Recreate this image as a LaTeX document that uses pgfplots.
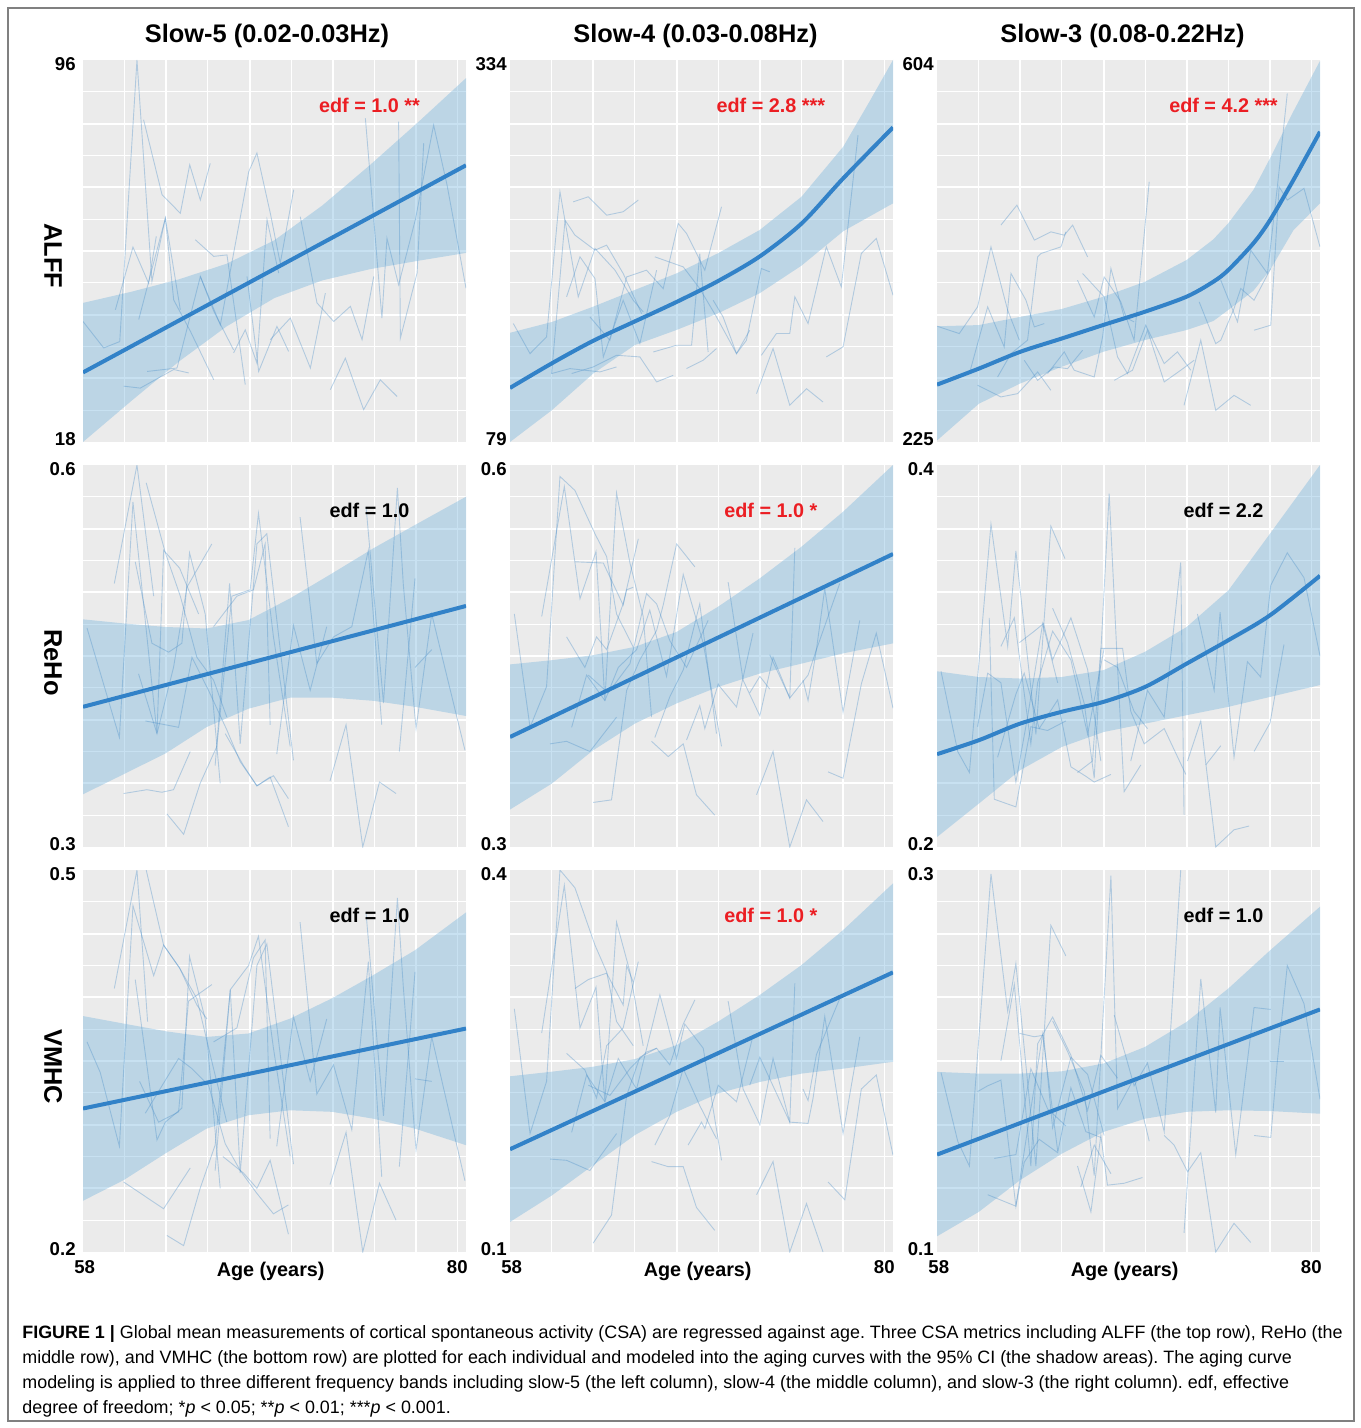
\documentclass[border=0pt]{standalone}
\usepackage{fontspec}
\setmainfont{Liberation Sans}
\usepackage{pgfplots}
\pgfplotsset{compat=1.18}

\definecolor{panelbg}{RGB}{235,235,235}
\definecolor{bandfill}{RGB}{118,180,222}
\definecolor{fitblue}{RGB}{50,130,200}
\definecolor{spagblue}{RGB}{70,140,200}
\definecolor{edfred}{RGB}{235,30,35}
\definecolor{framegray}{RGB}{128,128,128}

\newcommand{\titlefont}{\fontsize{12.7}{15}\selectfont\bfseries}
\newcommand{\tickfont}{\fontsize{9.3}{11}\selectfont\bfseries}
\newcommand{\edffont}{\fontsize{9.9}{12}\selectfont\bfseries}
\newcommand{\lblfont}{\fontsize{9.9}{12}\selectfont\bfseries}
\newcommand{\capfont}{\fontsize{8.95}{12.6}\selectfont}

\pgfplotsset{
  panel/.style={
    scale only axis, width=191.5pt, height=191pt,
    anchor=north west,
    xmin=58, xmax=80,
    axis background/.style={fill=panelbg},
    axis line style={draw=none},
    major tick length=0pt, minor tick length=0pt,
    grid=both,
    major grid style={draw=white, line width=1pt},
    minor grid style={draw=white, line width=0.5pt},
    xtick={62.78,67.57,72.35,77.13},
    minor xtick={60.39,65.17,69.96,74.74,79.52},
    xticklabels={}, yticklabels={},
    extra y tick style={grid=none},
    yticklabel style={font=\tickfont, inner sep=0pt, anchor=east},
  },
  firstcol/.style={yticklabel style={xshift=-3.5pt}},
  othercol/.style={yticklabel style={xshift=-1.5pt}},
  bottomrow/.style={
    extra x ticks={58.1,79.5},
    extra x tick labels={\textbf{58},\textbf{80}},
    extra x tick style={grid=none},
    xticklabel style={font=\tickfont, inner sep=0pt, anchor=north, yshift=-4pt},
    xlabel={Age (years)},
    xlabel style={font=\lblfont, at={(axis description cs:0.49,0)}, anchor=north, inner sep=0pt, yshift=-5pt},
  },
  band/.style={draw=none, fill=bandfill, fill opacity=0.4, forget plot},
  fit/.style={draw=fitblue, line width=2pt, mark=none, forget plot},
  spag/.style={draw=spagblue, draw opacity=0.35, line width=0.45pt, mark=none, forget plot},
}

\begin{document}
\frenchspacing
\begin{tikzpicture}
\useasboundingbox (0,0) rectangle (680pt,-714pt);
\fill[white] (0,0) rectangle (680pt,-714pt);
\draw[framegray, line width=0.8pt] (4pt,-4pt) rectangle (677pt,-710.5pt);

\node[font=\titlefont, anchor=base] at (133.5pt,-21.5pt) {Slow-5 (0.02-0.03Hz)};
\node[font=\titlefont, anchor=base] at (347.75pt,-21.5pt) {Slow-4 (0.03-0.08Hz)};
\node[font=\titlefont, anchor=base] at (561.25pt,-21.5pt) {Slow-3 (0.08-0.22Hz)};

\node[font=\titlefont, rotate=-90] at (26.5pt,-128pt) {ALFF};
\node[font=\titlefont, rotate=-90] at (26.5pt,-331.25pt) {ReHo};
\node[font=\titlefont, rotate=-90] at (26.5pt,-533.25pt) {VMHC};

% ---------------- Row 1, col 1 : ALFF slow-5
\begin{axis}[panel, firstcol, at={(41.5pt,-30pt)}, ymin=18, ymax=96,
  ytick={31,44,57,70,83}, minor ytick={24.5,37.5,50.5,63.5,76.5,89.5},
  extra y ticks={18.5,95.2}, extra y tick labels={\textbf{18},\textbf{96}}]
\addplot[band] coordinates {(58,46.4) (60.75,48.65) (63.5,51.2) (66.25,54.4) (69,59.2) (71.75,66.3) (74.5,74.6) (77.25,83.3) (80,92.3) (80,56.6) (77.25,55.0) (74.5,53.3) (71.75,51.0) (69,47.4) (66.25,41.6) (63.5,34.4) (60.75,26.3) (58,18.0)};
\addplot[spag] coordinates {(58.0,42.6) (59.19,37.2) (60.11,38.5) (61.10,96.0) (61.96,50.8) (62.73,63.7) (63.59,45.0)};
\addplot[spag] coordinates {(59.86,45.0) (60.87,57.8) (61.77,50.4) (62.21,60.0)};
\addplot[spag] coordinates {(61.48,83.8) (62.54,68.5) (63.59,64.7) (64.13,74.6) (64.74,67.4) (65.31,74.9)};
\addplot[spag] coordinates {(61.20,43.0) (62.73,63.7) (63.21,47.0) (64.17,40.6) (65.51,30.7)};
\addplot[spag] coordinates {(60.34,29.4) (61.29,29.0) (63.21,32.8) (64.07,32.1)};
\addplot[spag] coordinates {(61.68,32.4) (63.40,33.1) (64.74,51.8) (65.51,44.7) (66.65,36.8)};
\addplot[spag] coordinates {(64.45,59.3) (65.51,55.9) (66.27,56.2) (67.32,29.7)};
\addplot[spag] coordinates {(64.74,51.8) (65.89,41.9) (67.52,73.2) (67.99,77.0) (68.76,64.7) (69.33,54.5) (70.10,69.5)};
\addplot[spag] coordinates {(66.65,36.2) (67.32,40.9) (67.99,34.1) (68.57,63.4) (69.24,52.5)};
\addplot[spag] coordinates {(67.42,51.8) (68.09,32.4) (69.14,41.6) (69.81,36.5)};
\addplot[spag] coordinates {(68.76,38.9) (69.91,43.3) (71.06,33.1) (71.92,48.4)};
\addplot[spag] coordinates {(70.48,64.0) (71.44,46.4) (72.40,42.6) (73.36,45.7) (74.03,38.9) (74.70,51.8)};
\addplot[spag] coordinates {(72.21,28.7) (73.07,35.1) (74.12,24.6) (75.08,30.7) (76.04,27.3)};
\addplot[spag] coordinates {(74.22,84.1) (75.17,43.3) (75.46,59.6) (76.13,50.1) (77.09,63.4) (78.14,82.7) (78.91,70.5) (80.0,49.4)};
\addplot[spag] coordinates {(76.13,83.4) (76.23,39.2) (77.19,52.5) (77.57,79.0)};
\addplot[fit] coordinates {(58,32.2) (80,74.5)};
\node[font=\edffont, text=edfred] at (rel axis cs:0.748,0.881) {edf = 1.0 **};
\end{axis}

% ---------------- Row 1, col 2 : ALFF slow-4
\begin{axis}[panel, othercol, at={(255pt,-30pt)}, ymin=79, ymax=334,
  ytick={121.5,164,206.5,249,291.5}, minor ytick={100.25,142.75,185.25,227.75,270.25,312.75},
  extra y ticks={80.8,331.2}, extra y tick labels={\textbf{79},\textbf{334}}]
\addplot[band] coordinates {(58,151.9) (60.4,159.1) (62.77,169.3) (65.17,180.5) (67.57,191.6) (69.95,205.0) (72.34,220.5) (74.74,242.7) (77.14,276.1) (78.7,307.3) (80,334) (80,238.3) (77.14,219.7) (74.74,196.7) (72.34,178.3) (69.95,164.9) (67.57,153.8) (65.17,143.7) (62.77,124.6) (60.4,100.2) (58,79.0)};
\addplot[spag] coordinates {(58.19,158.1) (59.15,138.0) (60.10,149.2) (60.87,246.0) (61.92,175.9) (62.88,208.2) (64.03,193.7) (65.08,173.6) (65.65,165.9)};
\addplot[spag] coordinates {(60.39,124.7) (61.16,227.1) (61.73,217.1) (62.88,207.1) (63.55,210.4) (64.50,191.5) (65.56,164.7)};
\addplot[spag] coordinates {(61.63,239.3) (62.50,242.7) (63.55,230.4) (64.50,232.7) (65.37,240.5)};
\addplot[spag] coordinates {(61.25,175.9) (62.02,202.6) (62.88,188.1) (63.36,135.8) (64.50,173.6) (65.46,144.7) (66.42,193.7)};
\addplot[spag] coordinates {(60.39,124.7) (61.44,128.0) (63.17,125.8) (64.12,129.1)};
\addplot[spag] coordinates {(61.54,124.7) (62.78,129.1) (64.12,136.9) (65.46,135.8) (66.42,119.1) (67.37,123.5)};
\addplot[spag] coordinates {(62.59,162.5) (63.74,146.9) (64.70,189.2) (65.84,193.7) (66.80,181.4) (67.66,224.9) (68.14,218.2) (69.19,193.7) (70.15,236.0)};
\addplot[spag] coordinates {(66.23,139.1) (67.57,143.6) (68.43,143.6) (68.90,204.8) (69.38,139.1)};
\addplot[spag] coordinates {(66.32,202.6) (67.95,195.9) (68.90,181.4) (69.86,162.5) (71.01,138.0) (71.58,146.9) (72.44,194.8) (72.92,192.6)};
\addplot[spag] coordinates {(68.14,128.0) (69.10,133.6) (69.86,141.4)};
\addplot[spag] coordinates {(72.16,111.3) (73.11,141.4) (74.07,103.5) (75.03,114.6) (75.98,105.7)};
\addplot[spag] coordinates {(72.44,136.9) (73.30,151.4) (74.07,151.4) (74.36,175.9) (75.12,158.1) (76.17,209.3) (77.03,182.6) (77.99,283.9)};
\addplot[spag] coordinates {(76.17,135.8) (77.13,142.5) (78.18,204.8) (79.04,214.9) (80.0,177.0)};
\addplot[spag] coordinates {(69.67,173.6) (70.24,162.5) (71.01,138.0) (71.77,153.6)};
\addplot[fit, smooth] coordinates {(58,115.1) (60.4,131.5) (62.77,146.5) (65.17,159.5) (67.57,172.5) (69.96,186.5) (72.36,203.0) (74.76,225.0) (77.14,255.0) (80,289.0)};
\node[font=\edffont, text=edfred] at (rel axis cs:0.681,0.881) {edf = 2.8 ***};
\end{axis}

% ---------------- Row 1, col 3 : ALFF slow-3
\begin{axis}[panel, othercol, at={(468.5pt,-30pt)}, ymin=225, ymax=604,
  ytick={288.17,351.33,414.5,477.67,540.83}, minor ytick={256.58,319.75,382.92,446.08,509.25,572.42},
  extra y ticks={227.7,599.8}, extra y tick labels={\textbf{225},\textbf{604}}]
\addplot[band] coordinates {(58,339.8) (60.4,341.0) (62.77,349.1) (65.17,357.0) (67.57,369.2) (69.95,384.0) (72.34,405.6) (73.87,426.0) (74.73,442.0) (76.17,475.0) (77.13,506.5) (78.47,553.0) (80,603.2) (80,461.8) (78.47,435.0) (77.13,395.6) (76.17,375.0) (74.73,356.0) (73.87,345.0) (72.34,336.1) (69.95,326.2) (67.57,314.6) (65.17,299.7) (62.77,283.0) (60.4,262.9) (58,226.5)};
\addplot[spag] coordinates {(58.0,339.9) (59.28,332.6) (60.33,359.1) (61.10,418.6) (62.06,355.7) (62.73,326.0)};
\addplot[spag] coordinates {(59.86,292.9) (60.91,359.1) (61.86,319.3) (62.25,392.2) (63.11,365.7) (63.59,339.2) (64.16,342.5)};
\addplot[spag] coordinates {(61.67,440.2) (62.59,460.0) (63.59,425.3) (64.54,433.5) (65.31,430.2) (65.79,440.2) (66.65,408.7)};
\addplot[spag] coordinates {(60.33,281.3) (61.67,269.7) (62.63,273.0) (63.78,294.5) (64.54,276.3)};
\addplot[spag] coordinates {(61.48,289.5) (62.25,312.7) (63.20,326.0) (63.78,408.7) (63.97,412.0) (65.12,418.6) (65.40,433.5)};
\addplot[spag] coordinates {(63.01,306.1) (63.78,286.2) (64.73,299.5) (65.50,297.8) (66.36,316.0)};
\addplot[spag] coordinates {(64.35,292.9) (65.31,314.4) (65.88,296.2) (67.03,289.5) (67.51,329.3) (67.99,397.1) (68.75,349.1) (69.32,344.2)};
\addplot[spag] coordinates {(66.07,385.5) (67.03,349.1) (67.60,388.8) (68.56,364.0) (69.32,326.0) (70.19,483.2)};
\addplot[spag] coordinates {(66.36,392.2) (67.60,369.0) (68.37,309.4) (68.94,292.9) (69.99,340.9) (71.05,302.8) (71.81,314.4) (72.58,296.2)};
\addplot[spag] coordinates {(68.18,286.2) (69.23,296.2) (70.09,335.9) (71.05,284.6) (72.00,296.2) (72.77,306.1)};
\addplot[spag] coordinates {(72.19,261.4) (73.15,326.0) (74.01,256.4) (75.06,271.3) (76.02,261.4)};
\addplot[spag] coordinates {(73.06,364.0) (74.01,322.6) (74.30,326.0) (75.06,357.4) (75.45,377.3) (76.21,365.7) (77.17,397.1)};
\addplot[spag] coordinates {(74.30,385.5) (75.26,344.2) (76.02,415.3) (76.98,392.2) (77.55,478.2) (78.12,570.9)};
\addplot[spag] coordinates {(76.21,335.9) (77.17,340.9) (77.65,478.2) (78.12,465.0) (79.08,476.6) (80.0,418.6)};
\addplot[fit, smooth] coordinates {(58,281.9) (60.4,297.8) (62.77,314.4) (65.17,327.7) (67.55,341.1) (69.95,354.3) (72.34,369.2) (73.87,384.0) (74.73,395.6) (76.17,422.1) (77.13,445.2) (78.47,484.9) (80,532.8)};
\node[font=\edffont, text=edfred] at (rel axis cs:0.748,0.881) {edf = 4.2 ***};
\end{axis}

% ---------------- Row 2, col 1 : ReHo slow-5
\begin{axis}[panel, firstcol, at={(41.5pt,-232.5pt)}, ymin=0.3, ymax=0.6,
  ytick={0.35,0.4,0.45,0.5,0.55}, minor ytick={0.325,0.375,0.425,0.475,0.525,0.575},
  extra y ticks={0.302,0.5967}, extra y tick labels={\textbf{0.3},\textbf{0.6}}]
\addplot[band] coordinates {(58,0.4788) (60.4,0.4755) (62.73,0.4728) (65.1,0.4716) (67.5,0.4782) (69.9,0.4953) (72.3,0.5148) (74.68,0.5346) (77.07,0.5529) (80,0.5751) (80,0.4029) (77.07,0.4101) (74.68,0.4148) (72.3,0.4173) (69.9,0.4173) (67.5,0.4086) (65.1,0.3942) (62.73,0.3734) (60.4,0.3576) (58,0.3414)};
\addplot[spag] coordinates {(58.23,0.472) (60.09,0.386) (60.87,0.571) (62.25,0.389) (62.63,0.533) (63.55,0.519) (64.64,0.483)};
\addplot[spag] coordinates {(59.80,0.507) (61.10,0.600) (62.06,0.497)};
\addplot[spag] coordinates {(61.00,0.524) (61.96,0.460) (62.92,0.453) (63.68,0.460) (64.12,0.531) (65.02,0.483) (65.88,0.350)};
\addplot[spag] coordinates {(61.63,0.586) (62.73,0.531) (63.59,0.497) (64.54,0.449) (65.50,0.431) (66.26,0.402)};
\addplot[spag] coordinates {(60.33,0.342) (61.67,0.345) (62.53,0.343) (63.20,0.345) (64.16,0.375)};
\addplot[spag] coordinates {(61.19,0.436) (62.25,0.389) (63.20,0.441) (63.97,0.504) (65.40,0.538)};
\addplot[spag] coordinates {(61.58,0.399) (63.49,0.394) (64.26,0.449) (65.21,0.423) (66.26,0.392) (67.03,0.367) (67.99,0.348) (68.94,0.356) (69.80,0.338)};
\addplot[spag] coordinates {(62.82,0.326) (63.78,0.310) (64.73,0.350) (65.69,0.379) (66.55,0.497) (67.60,0.502) (68.08,0.562) (68.94,0.465) (69.90,0.379)};
\addplot[spag] coordinates {(65.59,0.364) (66.42,0.507) (67.03,0.381) (67.99,0.538) (68.56,0.546) (69.33,0.455) (70.09,0.368)};
\addplot[spag] coordinates {(65.50,0.473) (66.84,0.497) (67.79,0.502) (68.46,0.538) (68.75,0.396)};
\addplot[spag] coordinates {(66.17,0.389) (67.22,0.364) (67.99,0.348) (68.75,0.355) (69.80,0.316)};
\addplot[spag] coordinates {(69.13,0.373) (70.09,0.474) (71.05,0.423) (72.00,0.473)};
\addplot[spag] coordinates {(70.47,0.559) (71.43,0.444) (72.39,0.465) (73.44,0.473) (74.39,0.533) (75.16,0.396)};
\addplot[spag] coordinates {(72.19,0.352) (73.11,0.396) (74.07,0.300) (75.03,0.351) (75.98,0.342)};
\addplot[spag] coordinates {(74.26,0.567) (75.26,0.413) (76.06,0.582) (76.40,0.506) (77.13,0.393) (78.03,0.483) (79.94,0.376)};
\addplot[spag] coordinates {(76.17,0.375) (77.07,0.511)};
\addplot[spag] coordinates {(77.07,0.441) (78.03,0.455)};
\addplot[fit] coordinates {(58,0.4101) (80,0.4893)};
\node[font=\edffont, text=black] at (rel axis cs:0.748,0.881) {edf = 1.0};
\end{axis}

% ---------------- Row 2, col 2 : ReHo slow-4
\begin{axis}[panel, othercol, at={(255pt,-232.5pt)}, ymin=0.3, ymax=0.6,
  ytick={0.35,0.4,0.45,0.5,0.55}, minor ytick={0.325,0.375,0.425,0.475,0.525,0.575},
  extra y ticks={0.302,0.5967}, extra y tick labels={\textbf{0.3},\textbf{0.6}}]
\addplot[band] coordinates {(58,0.4434) (60.4,0.4467) (62.77,0.4506) (65.17,0.4572) (67.57,0.4689) (69.95,0.4887) (72.34,0.5109) (74.74,0.5358) (77.14,0.5634) (80,0.6000) (80,0.4599) (77.14,0.4521) (74.74,0.4440) (72.34,0.4362) (69.95,0.4257) (67.57,0.4128) (65.17,0.3969) (62.77,0.3759) (60.4,0.3498) (58,0.3294)};
\addplot[spag] coordinates {(58.25,0.483) (59.15,0.394) (60.10,0.426) (60.87,0.591) (61.73,0.580) (62.88,0.546) (63.55,0.528) (64.12,0.483) (65.08,0.457)};
\addplot[spag] coordinates {(59.82,0.481) (61.12,0.583) (62.02,0.495) (62.94,0.532) (63.45,0.415) (64.12,0.578) (64.89,0.523) (65.65,0.481) (66.13,0.402)};
\addplot[spag] coordinates {(61.25,0.465) (62.30,0.441) (62.97,0.465) (63.55,0.455) (64.50,0.491) (65.37,0.542)};
\addplot[spag] coordinates {(61.73,0.524) (63.36,0.523) (64.50,0.490) (64.70,0.502) (65.08,0.504)};
\addplot[spag] coordinates {(60.30,0.381) (61.25,0.383) (62.59,0.375) (64.12,0.402)};
\addplot[spag] coordinates {(62.78,0.335) (63.83,0.337) (64.70,0.423) (65.46,0.447) (66.42,0.470) (66.80,0.490) (67.57,0.538) (68.62,0.520)};
\addplot[spag] coordinates {(62.50,0.435) (63.64,0.421) (64.89,0.444) (65.84,0.499) (66.42,0.491) (67.18,0.462) (68.14,0.441) (69.38,0.478)};
\addplot[spag] coordinates {(61.54,0.394) (62.40,0.435) (63.45,0.415) (64.22,0.441) (65.27,0.455) (66.03,0.486) (66.99,0.434) (67.95,0.514) (69.10,0.460) (70.15,0.379)};
\addplot[spag] coordinates {(66.13,0.383) (67.09,0.371) (67.95,0.381) (68.71,0.341) (69.76,0.325)};
\addplot[spag] coordinates {(66.32,0.386) (67.18,0.418) (67.95,0.439) (68.90,0.491) (69.86,0.389)};
\addplot[spag] coordinates {(68.14,0.384) (68.90,0.411) (69.19,0.393) (69.96,0.428) (70.05,0.426) (71.01,0.410) (71.96,0.468)};
\addplot[spag] coordinates {(70.53,0.508) (71.39,0.431) (72.35,0.403) (73.11,0.449) (74.07,0.417) (74.36,0.535)};
\addplot[spag] coordinates {(72.16,0.341) (73.11,0.375) (74.07,0.300) (75.03,0.337) (75.98,0.320)};
\addplot[spag] coordinates {(71.77,0.421) (72.35,0.434) (72.92,0.424)};
\addplot[spag] coordinates {(72.92,0.451) (74.07,0.417) (75.12,0.435) (75.60,0.455) (76.08,0.503) (77.13,0.406) (78.09,0.478)};
\addplot[spag] coordinates {(76.27,0.359) (77.13,0.354) (78.18,0.428) (79.04,0.468) (80.0,0.409)};
\addplot[spag] coordinates {(74.83,0.431) (75.12,0.415) (75.60,0.455) (76.94,0.507)};
\addplot[fit] coordinates {(58,0.3864) (80,0.5301)};
\node[font=\edffont, text=edfred] at (rel axis cs:0.681,0.881) {edf = 1.0 *};
\end{axis}

% ---------------- Row 2, col 3 : ReHo slow-3
\begin{axis}[panel, othercol, at={(468.5pt,-232.5pt)}, ymin=0.2, ymax=0.4,
  ytick={0.23333,0.26667,0.3,0.33333,0.36667}, minor ytick={0.21667,0.25,0.28333,0.31667,0.35,0.38333},
  extra y ticks={0.2013,0.3978}, extra y tick labels={\textbf{0.2},\textbf{0.4}}]
\addplot[band] coordinates {(58,0.292) (60.4,0.289) (62.77,0.2882) (65.17,0.289) (67.57,0.2926) (69.95,0.3022) (72.34,0.3152) (74.74,0.3344) (77.14,0.3642) (80,0.4) (80,0.2848) (77.14,0.2786) (74.74,0.2734) (72.34,0.269) (69.95,0.2646) (67.57,0.2602) (65.17,0.2524) (62.77,0.2402) (60.4,0.2227) (58,0.2052)};
\addplot[spag] coordinates {(58.23,0.292) (59.19,0.250) (59.86,0.239) (61.10,0.369) (62.06,0.305) (62.53,0.355) (63.68,0.259) (64.54,0.368) (65.35,0.351)};
\addplot[spag] coordinates {(60.33,0.263) (60.91,0.291) (61.67,0.286) (62.53,0.234) (63.20,0.268) (64.07,0.317) (64.93,0.286)};
\addplot[spag] coordinates {(61.00,0.320) (61.29,0.225) (62.53,0.221) (63.39,0.263) (64.35,0.261) (65.40,0.266)};
\addplot[spag] coordinates {(61.67,0.305) (62.44,0.320) (63.39,0.254) (63.78,0.286) (64.64,0.313) (65.69,0.298) (66.65,0.259) (67.60,0.304)};
\addplot[spag] coordinates {(62.73,0.307) (63.59,0.313) (64.12,0.317) (64.64,0.298) (65.69,0.320) (66.65,0.293) (67.41,0.245)};
\addplot[spag] coordinates {(61.48,0.247) (62.53,0.280) (63.01,0.291) (63.87,0.262) (64.93,0.277) (65.69,0.242) (66.55,0.237) (67.03,0.234) (67.99,0.238)};
\addplot[spag] coordinates {(64.64,0.325) (65.50,0.307) (66.46,0.275) (67.03,0.236) (67.89,0.385) (68.37,0.294) (69.32,0.271) (70.09,0.262)};
\addplot[spag] coordinates {(66.07,0.239) (66.93,0.245) (67.41,0.304) (68.66,0.304) (69.13,0.271) (69.90,0.254) (71.05,0.262) (72.29,0.238)};
\addplot[spag] coordinates {(67.60,0.298) (68.37,0.294) (68.75,0.229) (69.71,0.243)};
\addplot[spag] coordinates {(69.13,0.245) (70.09,0.282) (71.05,0.268) (72.00,0.349) (72.19,0.217)};
\addplot[spag] coordinates {(72.39,0.245) (73.15,0.266) (74.01,0.200) (75.06,0.209) (75.93,0.211)};
\addplot[spag] coordinates {(72.96,0.322) (73.92,0.282) (74.26,0.323) (75.06,0.247) (75.83,0.297) (76.59,0.289) (77.17,0.337) (78.12,0.354) (79.08,0.341) (80.0,0.300)};
\addplot[spag] coordinates {(73.44,0.243) (74.30,0.253)};
\addplot[spag] coordinates {(76.21,0.250) (77.13,0.265) (77.93,0.306)};
\addplot[fit, smooth] coordinates {(58,0.2486) (60.4,0.2559) (62.77,0.2646) (65.17,0.2708) (67.57,0.276) (69.95,0.2838) (72.34,0.296) (74.74,0.3083) (77.14,0.3214) (80,0.342)};
\node[font=\edffont, text=black] at (rel axis cs:0.748,0.881) {edf = 2.2};
\end{axis}

% ---------------- Row 3, col 1 : VMHC slow-5
\begin{axis}[panel, firstcol, bottomrow, at={(41.5pt,-435pt)}, ymin=0.2, ymax=0.5,
  ytick={0.25,0.3,0.35,0.4,0.45}, minor ytick={0.225,0.275,0.325,0.375,0.425,0.475},
  extra y ticks={0.202,0.4967}, extra y tick labels={\textbf{0.2},\textbf{0.5}}]
\addplot[band] coordinates {(58,0.3853) (60.33,0.3794) (62.73,0.3734) (65.1,0.3689) (67.5,0.3716) (69.9,0.3833) (72.3,0.3992) (74.68,0.4175) (77.07,0.4370) (80,0.4667) (80,0.2839) (77.07,0.2969) (74.68,0.3047) (72.3,0.3101) (69.9,0.3113) (67.5,0.3074) (65.1,0.2969) (62.73,0.2774) (60.33,0.2564) (58,0.2402)};
\addplot[spag] coordinates {(58.23,0.365) (58.99,0.341) (60.09,0.283) (60.87,0.472) (62.06,0.417) (62.63,0.441) (63.55,0.423) (64.54,0.394) (65.12,0.383)};
\addplot[spag] coordinates {(59.80,0.407) (61.10,0.500) (61.71,0.381)};
\addplot[spag] coordinates {(61.00,0.414) (62.25,0.288) (62.73,0.302) (63.68,0.313) (64.12,0.432) (65.02,0.383) (65.88,0.250)};
\addplot[spag] coordinates {(61.63,0.500) (62.63,0.441) (63.55,0.423) (64.54,0.399) (65.50,0.344) (66.26,0.302)};
\addplot[spag] coordinates {(60.33,0.255) (62.63,0.234) (64.16,0.266)};
\addplot[spag] coordinates {(61.25,0.334) (62.34,0.302) (63.49,0.310) (64.06,0.397) (65.40,0.410)};
\addplot[spag] coordinates {(61.58,0.309) (63.49,0.352) (64.26,0.344) (65.21,0.331) (66.17,0.285) (67.03,0.264) (67.99,0.246) (68.94,0.230) (69.80,0.237)};
\addplot[spag] coordinates {(62.82,0.213) (63.78,0.205) (64.73,0.250) (65.59,0.284) (66.46,0.406) (67.51,0.425) (68.08,0.448) (68.94,0.360) (69.90,0.275)};
\addplot[spag] coordinates {(65.59,0.264) (66.46,0.406) (67.03,0.262) (67.99,0.425) (68.56,0.442) (69.33,0.355) (70.09,0.269)};
\addplot[spag] coordinates {(65.50,0.365) (66.84,0.376) (67.79,0.431) (68.46,0.445) (68.75,0.289)};
\addplot[spag] coordinates {(66.03,0.275) (67.22,0.262) (67.99,0.250) (68.75,0.272) (69.80,0.214)};
\addplot[spag] coordinates {(69.13,0.283) (70.09,0.385) (71.05,0.334) (72.00,0.383)};
\addplot[spag] coordinates {(70.47,0.459) (71.43,0.324) (72.39,0.347) (73.44,0.296) (74.39,0.428) (75.16,0.259)};
\addplot[spag] coordinates {(72.19,0.253) (73.11,0.294) (74.07,0.200) (75.03,0.254) (75.98,0.225)};
\addplot[spag] coordinates {(74.26,0.466) (75.26,0.307) (76.06,0.478) (76.40,0.408) (77.13,0.280) (78.03,0.369) (79.94,0.256)};
\addplot[spag] coordinates {(76.17,0.267) (77.07,0.420)};
\addplot[spag] coordinates {(77.07,0.336) (78.03,0.334)};
\addplot[fit] coordinates {(58,0.3127) (80,0.3755)};
\node[font=\edffont, text=black] at (rel axis cs:0.748,0.88) {edf = 1.0};
\end{axis}

% ---------------- Row 3, col 2 : VMHC slow-4
\begin{axis}[panel, othercol, bottomrow, at={(255pt,-435pt)}, ymin=0.1, ymax=0.4,
  ytick={0.15,0.2,0.25,0.3,0.35}, minor ytick={0.125,0.175,0.225,0.275,0.325,0.375},
  extra y ticks={0.102,0.3967}, extra y tick labels={\textbf{0.1},\textbf{0.4}}]
\addplot[band] coordinates {(58,0.238) (60.4,0.2416) (62.77,0.2455) (65.17,0.2515) (67.57,0.2625) (69.95,0.2809) (72.34,0.3018) (74.74,0.3253) (77.14,0.3529) (80,0.3895) (80,0.2494) (77.14,0.244) (74.74,0.2401) (72.34,0.2335) (69.95,0.2245) (67.57,0.2101) (65.17,0.1918) (62.77,0.1681) (60.4,0.1444) (58,0.1236)};
\addplot[spag] coordinates {(58.25,0.291) (59.15,0.193) (60.10,0.234) (60.87,0.400) (61.73,0.386) (62.88,0.341) (63.55,0.320) (64.12,0.281) (65.08,0.262)};
\addplot[spag] coordinates {(59.82,0.272) (61.12,0.388) (62.02,0.276) (62.94,0.308) (63.45,0.218) (64.12,0.359) (64.89,0.320) (65.65,0.262)};
\addplot[spag] coordinates {(61.25,0.256) (62.30,0.243) (62.97,0.221) (63.55,0.262) (64.50,0.276) (65.37,0.328)};
\addplot[spag] coordinates {(61.73,0.307) (62.50,0.314) (63.55,0.319) (64.50,0.294) (64.70,0.325) (65.08,0.312)};
\addplot[spag] coordinates {(60.30,0.173) (61.25,0.172) (62.59,0.164) (64.12,0.193)};
\addplot[spag] coordinates {(62.78,0.107) (63.83,0.129) (64.70,0.223) (65.46,0.253) (66.42,0.260) (67.18,0.247) (67.95,0.279) (68.62,0.298)};
\addplot[spag] coordinates {(62.50,0.231) (63.74,0.223) (64.89,0.244) (65.84,0.257) (66.42,0.260)};
\addplot[spag] coordinates {(61.54,0.194) (62.40,0.239) (63.45,0.218) (64.22,0.252) (65.27,0.228) (66.61,0.302) (67.57,0.252) (68.04,0.279) (69.10,0.260) (70.15,0.172)};
\addplot[spag] coordinates {(66.13,0.171) (67.09,0.167) (67.95,0.167) (68.71,0.135) (69.76,0.117)};
\addplot[spag] coordinates {(66.32,0.184) (67.18,0.207) (67.95,0.244) (68.90,0.215) (69.86,0.189)};
\addplot[spag] coordinates {(68.23,0.184) (69.00,0.202) (69.19,0.197) (69.96,0.231) (71.01,0.218) (71.96,0.270)};
\addplot[spag] coordinates {(70.53,0.297) (71.39,0.228) (72.35,0.200) (73.11,0.252) (74.07,0.202) (74.36,0.311)};
\addplot[spag] coordinates {(72.16,0.145) (73.11,0.171) (74.07,0.100) (75.03,0.138) (75.98,0.100)};
\addplot[spag] coordinates {(71.77,0.231) (72.35,0.253) (72.92,0.236)};
\addplot[spag] coordinates {(72.92,0.236) (74.07,0.202) (75.12,0.201) (75.41,0.221) (76.08,0.285) (77.13,0.193) (78.09,0.269)};
\addplot[spag] coordinates {(76.27,0.155) (77.23,0.141) (78.18,0.228) (79.04,0.239) (80.0,0.176)};
\addplot[spag] coordinates {(74.83,0.228) (75.12,0.219) (75.60,0.255) (76.94,0.299)};
\addplot[fit] coordinates {(58,0.1807) (80,0.3196)};
\node[font=\edffont, text=edfred] at (rel axis cs:0.681,0.88) {edf = 1.0 *};
\end{axis}

% ---------------- Row 3, col 3 : VMHC slow-3
\begin{axis}[panel, othercol, bottomrow, at={(468.5pt,-435pt)}, ymin=0.1, ymax=0.3,
  ytick={0.13333,0.16667,0.2,0.23333,0.26667}, minor ytick={0.11667,0.15,0.18333,0.21667,0.25,0.28333},
  extra y ticks={0.1013,0.2978}, extra y tick labels={\textbf{0.1},\textbf{0.3}}]
\addplot[band] coordinates {(58,0.1943) (60.4,0.1934) (62.77,0.1934) (65.17,0.1946) (67.57,0.1987) (69.95,0.2074) (72.34,0.2205) (74.74,0.238) (77.14,0.258) (80,0.2808) (80,0.1724) (77.14,0.1738) (74.74,0.1742) (72.34,0.1734) (69.95,0.1698) (67.57,0.1629) (65.17,0.1515) (62.77,0.1376) (60.4,0.121) (58,0.1082)};
\addplot[spag] coordinates {(58.23,0.194) (59.19,0.158) (59.86,0.145) (61.10,0.298) (62.06,0.226) (62.53,0.251) (63.68,0.145) (64.54,0.271) (65.40,0.255)};
\addplot[spag] coordinates {(60.33,0.184) (60.91,0.187) (61.67,0.190) (62.53,0.124) (63.20,0.164) (64.07,0.214) (64.93,0.153)};
\addplot[spag] coordinates {(61.29,0.149) (62.53,0.151) (63.39,0.196) (64.35,0.175) (65.40,0.166)};
\addplot[spag] coordinates {(61.67,0.200) (62.44,0.240) (63.39,0.145) (63.78,0.209) (64.64,0.223) (65.69,0.203) (66.65,0.174) (67.41,0.203) (68.37,0.191)};
\addplot[spag] coordinates {(62.73,0.2145) (63.59,0.2127) (64.12,0.2135) (64.64,0.165) (65.69,0.202) (66.65,0.193) (67.60,0.161)};
\addplot[spag] coordinates {(60.91,0.130) (62.53,0.124) (63.01,0.147) (63.87,0.159) (64.93,0.152) (65.69,0.186) (66.55,0.163) (67.41,0.160)};
\addplot[spag] coordinates {(64.64,0.221) (65.50,0.205) (66.46,0.184) (67.03,0.140) (67.99,0.297) (68.37,0.175) (69.32,0.191) (70.19,0.158)};
\addplot[spag] coordinates {(66.07,0.145) (66.84,0.121) (67.41,0.161) (67.79,0.135) (68.75,0.136) (69.80,0.139)};
\addplot[spag] coordinates {(66.26,0.134) (67.03,0.156) (67.99,0.141)};
\addplot[spag] coordinates {(68.18,0.224) (69.32,0.187) (70.09,0.199) (71.05,0.163) (72.00,0.300)};
\addplot[spag] coordinates {(71.05,0.161) (71.62,0.156) (72.39,0.142) (73.15,0.152) (74.01,0.100) (75.06,0.115) (76.02,0.105)};
\addplot[spag] coordinates {(72.19,0.110) (73.15,0.243) (74.01,0.173) (74.26,0.228) (75.16,0.151) (76.21,0.228) (77.17,0.227)};
\addplot[spag] coordinates {(76.21,0.161) (77.17,0.160) (77.55,0.200) (78.12,0.250) (79.08,0.230) (80.0,0.180)};
\addplot[spag] coordinates {(77.13,0.200) (77.93,0.200)};
\addplot[fit] coordinates {(58,0.151) (80,0.227)};
\node[font=\edffont, text=black] at (rel axis cs:0.748,0.88) {edf = 1.0};
\end{axis}

\node[anchor=north west, align=left, font=\capfont, inner sep=0pt] at (11pt,-662.5pt) {%
\textbf{FIGURE 1 |} Global mean measurements of cortical spontaneous activity (CSA) are regressed against age. Three CSA metrics including ALFF (the top row), ReHo (the\\
middle row), and VMHC (the bottom row) are plotted for each individual and modeled into the aging curves with the 95\% CI (the shadow areas). The aging curve\\
modeling is applied to three different frequency bands including slow-5 (the left column), slow-4 (the middle column), and slow-3 (the right column). edf, effective\\
degree of freedom; *\textit{p} < 0.05; **\textit{p} < 0.01; ***\textit{p} < 0.001.};
\end{tikzpicture}
\end{document}
